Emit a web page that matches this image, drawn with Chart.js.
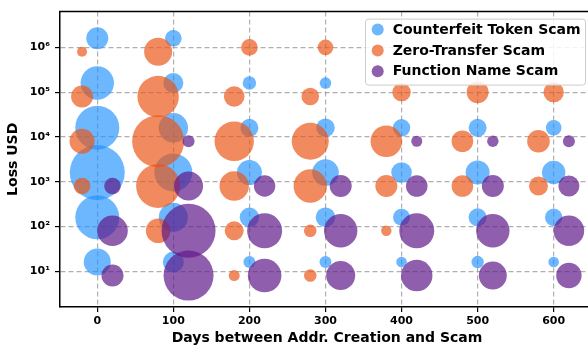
<!DOCTYPE html>
<html><head><meta charset="utf-8">
<script src="https://cdn.jsdelivr.net/npm/chart.js@4.4.0/dist/chart.umd.min.js"></script>
<style>
html,body{margin:0;padding:0;overflow:hidden;background:#fff;width:588px;height:350px}
#wrap{position:relative;width:594px;height:350px}
</style></head><body>
<div id="wrap"><canvas id="c" width="594" height="350"></canvas></div>
<script>
const seriesNames = ['Counterfeit Token Scam', 'Zero-Transfer Scam', 'Function Name Scam'];
const xTickValues = [0, 100, 200, 300, 400, 500, 600];
const yTickValues = [1e1, 1e2, 1e3, 1e4, 1e5, 1e6];
const yTickLabels = ['10¹', '10²', '10³', '10⁴', '10⁵', '10⁶'];
const xAxisTitle = 'Days between Addr. Creation and Scam';
const yAxisTitle = 'Loss USD';

// Counterfeit Token Scam
const counterfeitDays = [0,0,0,0,0,0, 100,100,100,100,100,100, 200,200,200,200,200, 300,300,300,300,300, 400,400,400,400, 500,500,500,500, 600,600,600,600];
const counterfeitLoss = [1.6e6,1.6e5,1.6e4,1.6e3,1.6e2,1.6e1, 1.6e6,1.6e5,1.6e4,1.6e3,1.6e2,1.6e1, 1.6e5,1.6e4,1.6e3,1.6e2,1.6e1, 1.6e5,1.6e4,1.6e3,1.6e2,1.6e1, 1.6e4,1.6e3,1.6e2,1.6e1, 1.6e4,1.6e3,1.6e2,1.6e1, 1.6e4,1.6e3,1.6e2,1.6e1];
const counterfeitSize = [11,16.7,22,27.5,22,13.5, 8.3,10,14.7,19,14.5,10.5, 6.7,9,12.5,9.7,6, 5.8,9.3,13.3,9.8,6, 8.7,10.3,8.5,5.3, 9,12,9,6.2, 7.8,11.7,8.7,5.3];

// Zero-Transfer Scam
const zeroDays = [-20,-20,-20,-20, 80,80,80,80,80, 180,180,180,180,180, 200, 280,280,280,280,280, 300, 380,380,380, 400, 480,480, 500, 580,580, 600];
const zeroLoss = [8e5,8e4,8e3,8e2, 8e5,8e4,8e3,8e2,8e1, 8e4,8e3,8e2,8e1,8e0, 1e6, 8e4,8e3,8e2,8e1,8e0, 1e6, 8e3,8e2,8e1, 1e5, 8e3,8e2, 1e5, 8e3,8e2, 1e5];
const zeroSize = [5,11,12.5,8.3, 14,20.7,26,22,12.3, 10.3,19.7,14.7,9.5,5.5, 8.3, 8.8,18.5,16.7,6.3,6.3, 7.8, 15.8,11,5.2, 9.2, 10.8,10.8, 11, 11.3,9.5, 10.2];

// Function Name Scam
const functionDays = [20,20,20, 120,120,120,120, 220,220,220, 320,320,320, 420,420,420,420, 520,520,520,520, 620,620,620,620];
const functionLoss = [8e2,8e1,8e0, 8e3,8e2,8e1,8e0, 8e2,8e1,8e0, 8e2,8e1,8e0, 8e3,8e2,8e1,8e0, 8e3,8e2,8e1,8e0, 8e3,8e2,8e1,8e0];
const functionSize = [8.3,15.3,11, 6,14.5,27,25, 10.7,17.5,16.8, 11,16.7,14.5, 5.5,10.8,17.5,15.7, 5.7,11,16.7,14, 6,10.5,15.3,12.7];

function points(xs, ys, rs) {
  return xs.map((x, i) => ({x: x, y: ys[i], r: rs[i]}));
}

const colors = ['rgba(30,144,255,0.65)', 'rgba(234,84,19,0.68)', 'rgba(95,25,138,0.7)'];
const FONT = '"DejaVu Sans", sans-serif';

const frameLegend = {
  id: 'frameLegend',
  afterDraw(chart) {
    const ctx = chart.ctx;
    const a = chart.chartArea;
    ctx.save();
    // top spine
    ctx.strokeStyle = '#000';
    ctx.lineWidth = 1.5;
    ctx.beginPath();
    ctx.moveTo(a.left - 0.75, a.top);
    ctx.lineTo(a.right, a.top);
    ctx.stroke();
    // legend
    const lx = a.right - 229, ly = a.top + 7, lw = 220, lh = 66;
    ctx.beginPath();
    ctx.roundRect(lx + 0.5, ly + 0.5, lw, lh, 3);
    ctx.fillStyle = 'rgba(255,255,255,0.85)';
    ctx.fill();
    ctx.strokeStyle = '#cccccc';
    ctx.lineWidth = 1;
    ctx.stroke();
    chart.data.datasets.forEach((ds, i) => {
      const cy = ly + 11 + i * 20.8;
      ctx.beginPath();
      ctx.arc(lx + 12.7, cy, 6, 0, Math.PI * 2);
      ctx.fillStyle = ds.backgroundColor;
      ctx.fill();
      ctx.fillStyle = '#000';
      ctx.font = 'bold 14px ' + FONT;
      ctx.textBaseline = 'middle';
      ctx.textAlign = 'left';
      ctx.fillText(ds.label, lx + 27.7, cy + 0.5);
    });
    ctx.restore();
  }
};

new Chart(document.getElementById('c'), {
  type: 'bubble',
  data: {
    datasets: [
      {label: seriesNames[0], data: points(counterfeitDays, counterfeitLoss, counterfeitSize), backgroundColor: colors[0], borderWidth: 0, order: 3},
      {label: seriesNames[1], data: points(zeroDays, zeroLoss, zeroSize), backgroundColor: colors[1], borderWidth: 0, order: 2},
      {label: seriesNames[2], data: points(functionDays, functionLoss, functionSize), backgroundColor: colors[2], borderWidth: 0, order: 1}
    ]
  },
  options: {
    responsive: false,
    devicePixelRatio: 1,
    animation: false,
    events: [],
    layout: {autoPadding: false, padding: {top: 7, left: 0, right: 0, bottom: 0}},
    plugins: {legend: {display: false}, tooltip: {enabled: false}},
    scales: {
      x: {
        type: 'linear', min: -49, max: 653, z: 1,
        afterBuildTicks: s => { s.ticks = xTickValues.map(v => ({value: v})); },
        afterFit: s => { s.height = 43; },
        grid: {color: 'rgba(150,150,150,0.75)', lineWidth: 1.2, tickColor: '#000', tickLength: 5, tickWidth: 1.2, tickBorderDash: []},
        border: {display: true, color: '#000', width: 1.5, dash: [5, 3]},
        ticks: {color: '#000', padding: 3, maxRotation: 0, font: {family: FONT, size: 11, weight: 'bold'}, callback: v => String(v)},
        title: {display: true, text: xAxisTitle, color: '#000', padding: {top: 0, bottom: 3}, font: {family: FONT, size: 14, weight: 'bold'}}
      },
      y: {
        type: 'logarithmic', min: Math.pow(10, 0.2), max: Math.pow(10, 6.8), z: 1,
        afterBuildTicks: s => { s.ticks = yTickValues.map(v => ({value: v})); },
        afterFit: s => { s.width = 60; },
        grid: {color: 'rgba(150,150,150,0.75)', lineWidth: 1.2, tickColor: '#000', tickLength: 5, tickWidth: 1.2, tickBorderDash: []},
        border: {display: true, color: '#000', width: 1.5, dash: [5, 3]},
        ticks: {color: '#000', padding: 5, font: {family: FONT, size: 11, weight: 'bold'},
          callback: (v) => { const i = yTickValues.indexOf(v); return i >= 0 ? yTickLabels[i] : ''; }},
        title: {display: true, text: yAxisTitle, color: '#000', padding: {top: 5, bottom: 0}, font: {family: FONT, size: 14, weight: 'bold'}}
      }
    }
  },
  plugins: [frameLegend]
});
</script>
</body></html>
